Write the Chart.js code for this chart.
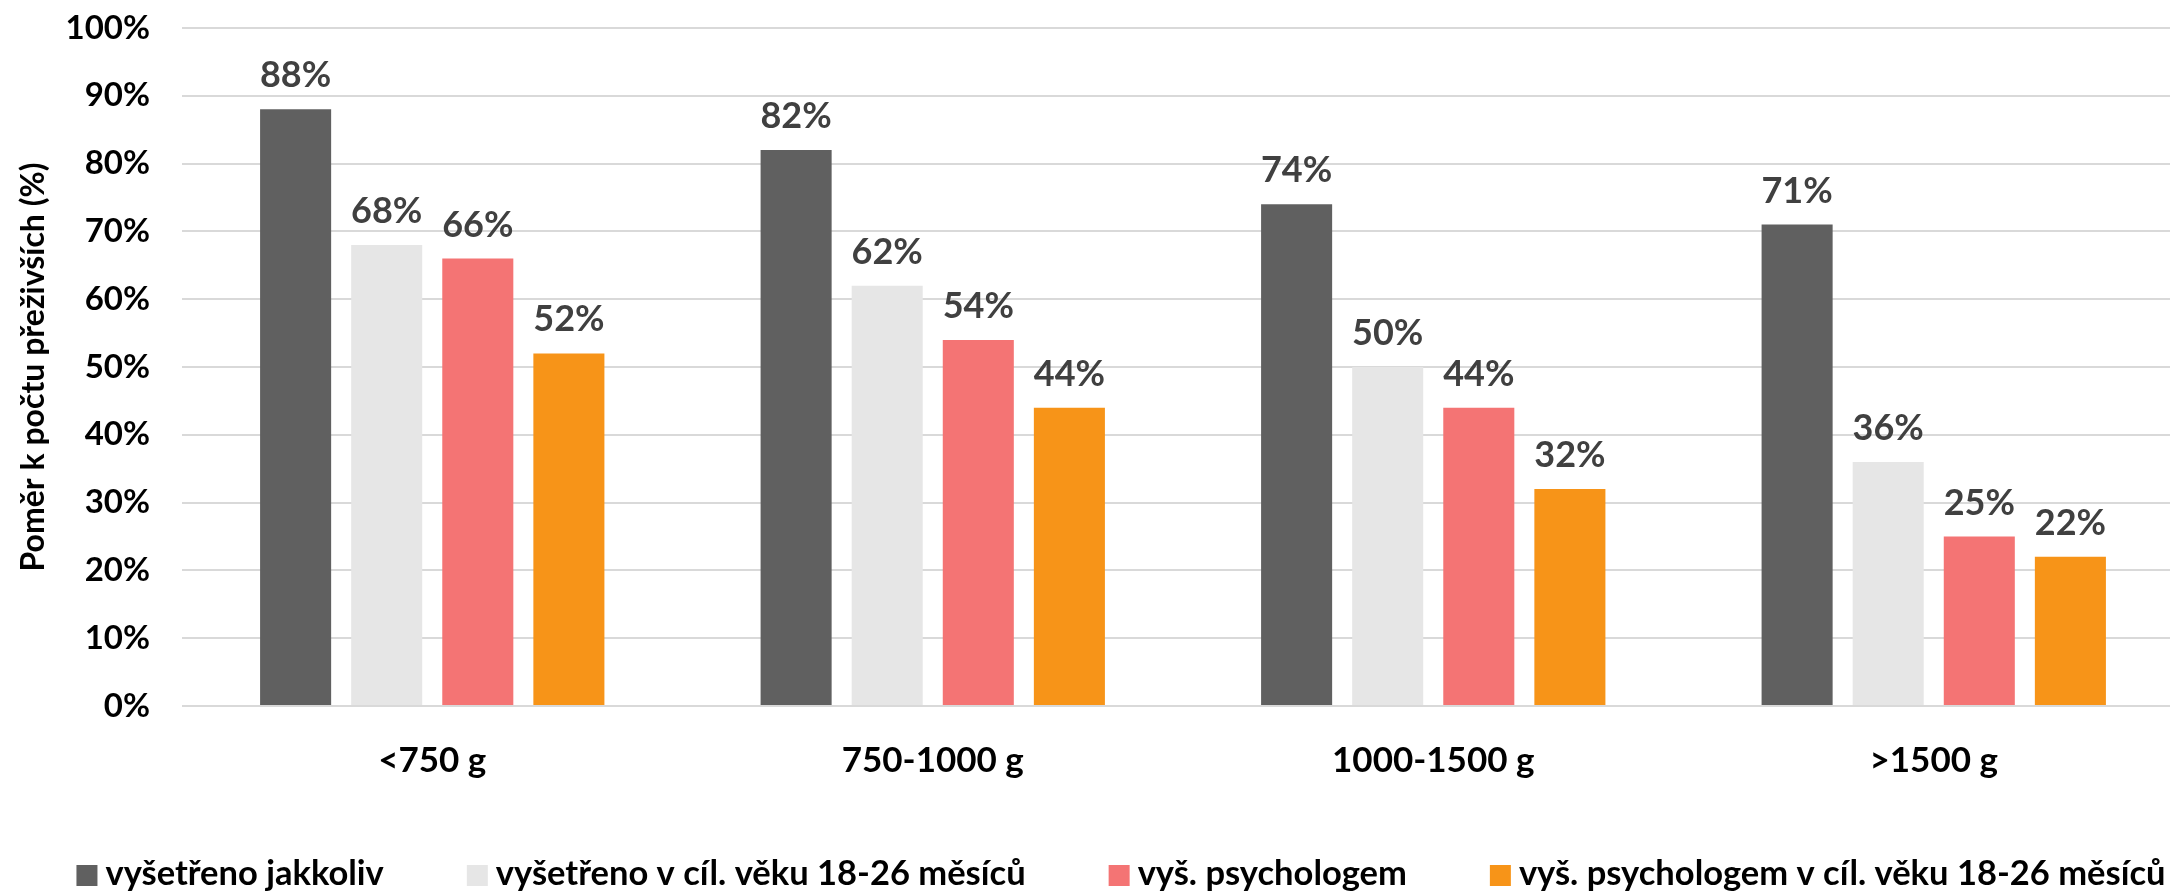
<!DOCTYPE html>
<html>
<head>
<meta charset="utf-8">
<title>Poměr k počtu přeživších</title>
<script src="https://cdn.jsdelivr.net/npm/chart.js@4.4.0/dist/chart.umd.min.js"></script>
<style>
  html, body { margin: 0; padding: 0; background: #fff; overflow: hidden; }
  canvas { display: block; }
</style>
</head>
<body>
<canvas id="chart" width="2184" height="892"></canvas>
<script>
// Birth weight groups
const categories = ['<750 g', '750-1000 g', '1000-1500 g', '>1500 g'];

const seriesNames = [
  'vyšetřeno jakkoliv',
  'vyšetřeno v cíl. věku 18-26 měsíců',
  'vyš. psychologem',
  'vyš. psychologem v cíl. věku 18-26 měsíců'
];

// Share of survivors (%)
const examinedAny = [88, 82, 74, 71];
const examinedTarget = [68, 62, 50, 36];
const psychAny = [66, 54, 44, 25];
const psychTarget = [52, 44, 32, 22];

const seriesColors = ['#606060', '#e6e6e6', '#f47474', '#f79418'];

const FONT = 'Lato, "Noto Sans", sans-serif';

// Value labels above each bar
const barLabels = {
  id: 'barLabels',
  afterDatasetsDraw(chart) {
    const ctx = chart.ctx;
    ctx.save();
    ctx.font = 'bold 36px ' + FONT;
    ctx.fillStyle = '#404040';
    ctx.textAlign = 'center';
    ctx.textBaseline = 'alphabetic';
    chart.data.datasets.forEach((ds, i) => {
      chart.getDatasetMeta(i).data.forEach((bar, j) => {
        ctx.fillText(ds.data[j] + '%', bar.x, bar.y - 22);
      });
    });
    ctx.restore();
  }
};

// Single-row legend under the axis
const bottomLegend = {
  id: 'bottomLegend',
  afterDraw(chart) {
    const ctx = chart.ctx;
    const sets = chart.data.datasets;
    const box = 21, textGap = 8, itemGap = 83;
    ctx.save();
    ctx.font = 'bold 34.5px ' + FONT;
    const widths = sets.map(ds => ctx.measureText(ds.label).width);
    const total = widths.reduce((a, b) => a + b, 0) + sets.length * (box + textGap) + (sets.length - 1) * itemGap;
    let x = 1121 - total / 2;
    const y = 865;
    ctx.textBaseline = 'alphabetic';
    ctx.textAlign = 'left';
    sets.forEach((ds, i) => {
      ctx.fillStyle = ds.backgroundColor;
      ctx.fillRect(x, y, box, box);
      ctx.fillStyle = '#000';
      ctx.fillText(ds.label, x + box + textGap, y + box - 1);
      x += box + textGap + widths[i] + itemGap;
    });
    ctx.restore();
  }
};

const seriesData = [examinedAny, examinedTarget, psychAny, psychTarget];

new Chart(document.getElementById('chart'), {
  type: 'bar',
  data: {
    labels: categories,
    datasets: seriesData.map((values, i) => ({
      label: seriesNames[i],
      data: values,
      backgroundColor: seriesColors[i],
      borderWidth: 0,
      categoryPercentage: 0.728,
      barPercentage: 0.78
    }))
  },
  options: {
    responsive: false,
    animation: false,
    layout: { padding: { top: 28, right: 0, bottom: 0, left: 0 } },
    plugins: {
      legend: { display: false },
      tooltip: { enabled: false }
    },
    scales: {
      x: {
        grid: { display: false },
        border: { display: false },
        ticks: {
          color: '#000',
          padding: 26,
          font: { family: FONT, size: 35, weight: 'bold' }
        },
        afterFit(scale) { scale.height = 186; }
      },
      y: {
        min: 0,
        max: 100,
        ticks: {
          stepSize: 10,
          color: '#000',
          padding: 32,
          font: { family: FONT, size: 33, weight: 'bold' },
          callback: v => v + '%'
        },
        grid: { color: '#d9d9d9', lineWidth: 2, drawTicks: false },
        border: { display: false },
        title: {
          display: true,
          text: 'Poměr k počtu přeživších (%)',
          color: '#000',
          padding: { top: 14, bottom: 0 },
          font: { family: FONT, size: 32, weight: 'bold' }
        },
        afterFit(scale) {
          scale.width = 182;
          // the top label fits inside the layout padding
          scale.paddingTop = 0;
          scale.paddingBottom = 0;
        }
      }
    }
  },
  plugins: [barLabels, bottomLegend]
});
</script>
</body>
</html>
